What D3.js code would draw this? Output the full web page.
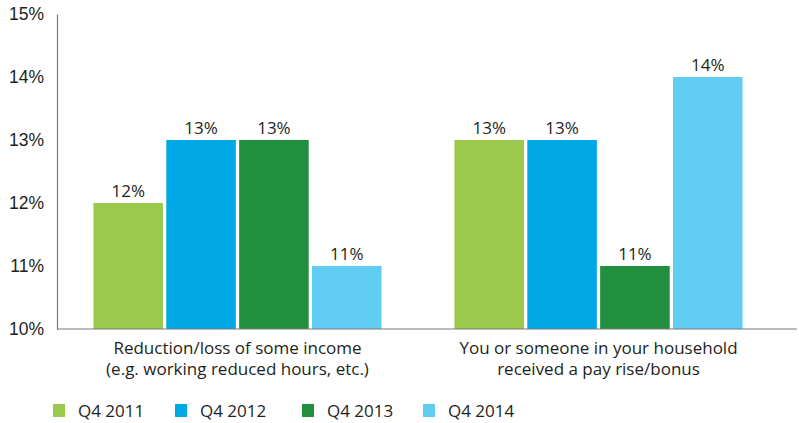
<!DOCTYPE html>
<html>
<head>
<meta charset="utf-8">
<script src="https://cdn.jsdelivr.net/npm/d3@7"></script>
<style>
  html, body { margin: 0; padding: 0; background: #fff; }
  svg { display: block; font-family: "Open Sans", "DejaVu Sans", sans-serif; }
</style>
</head>
<body>
<svg id="chart" width="799" height="423"></svg>
<script>
// Income-change categories and survey waves
const categories = [
  ["Reduction/loss of some income", "(e.g. working reduced hours, etc.)"],
  ["You or someone in your household", "received a pay rise/bonus"]
];
const seriesNames = ["Q4 2011", "Q4 2012", "Q4 2013", "Q4 2014"];
const seriesColors = ["#9bc94b", "#00a9e6", "#218f3e", "#62cdf3"];
// values[i][j] = percentage for category i, series j
const values = [
  [12, 13, 13, 11],
  [13, 13, 11, 14]
];
const yTicks = [10, 11, 12, 13, 14, 15];

const svg = d3.select("#chart");
const textColor = "#231f20";

const x0 = d3.scaleBand().domain(d3.range(categories.length)).range([57, 779]).paddingInner(0).paddingOuter(0);
const x1 = d3.scaleBand().domain(d3.range(seriesNames.length))
  .range([0, x0.bandwidth()]).paddingInner(0.045).paddingOuter(0.5);
const y = d3.scaleLinear().domain([10, 15]).range([329, 14]);

// Y axis
const yAxis = svg.append("g").attr("transform", "translate(57,0)")
  .call(d3.axisLeft(y).tickValues(yTicks).tickSize(0).tickPadding(13).tickFormat(d => d + "%"));
yAxis.select(".domain").attr("stroke", "#7a7a7a").attr("stroke-width", 1.2);
yAxis.selectAll("text").attr("font-size", 17.5).attr("fill", textColor);

// Bars
const groups = svg.append("g").selectAll("g").data(values).join("g")
  .attr("transform", (d, i) => `translate(${x0(i)},0)`);
groups.selectAll("rect").data(d => d).join("rect")
  .attr("x", (d, j) => x1(j))
  .attr("y", d => y(d))
  .attr("width", x1.bandwidth())
  .attr("height", d => y(10) - y(d))
  .attr("fill", (d, j) => seriesColors[j]);
groups.selectAll("text").data(d => d).join("text")
  .attr("x", (d, j) => x1(j) + x1.bandwidth() / 2)
  .attr("y", d => y(d) - 6)
  .attr("text-anchor", "middle")
  .attr("font-size", 17)
  .attr("fill", textColor)
  .text(d => d + "%");

// Baseline
svg.append("line").attr("x1", 57).attr("x2", 797).attr("y1", y(10)).attr("y2", y(10))
  .attr("stroke", "#7a7a7a").attr("stroke-width", 1.2);

// Category labels
categories.forEach((lines, i) => {
  const t = svg.append("text")
    .attr("x", x0(i) + x0.bandwidth() / 2)
    .attr("text-anchor", "middle")
    .attr("font-size", 17)
    .attr("fill", textColor);
  lines.forEach((ln, k) => t.append("tspan")
    .attr("x", x0(i) + x0.bandwidth() / 2)
    .attr("y", 354 + k * 21)
    .text(ln));
});

// Legend
const legendX = [53, 175, 302, 423];
const legend = svg.append("g").selectAll("g").data(seriesNames).join("g")
  .attr("transform", (d, i) => `translate(${legendX[i]},404)`);
legend.append("rect").attr("width", 12).attr("height", 13).attr("fill", (d, i) => seriesColors[i]);
legend.append("text").attr("x", 25).attr("y", 13).attr("font-size", 17).attr("fill", textColor).text(d => d);
</script>
</body>
</html>
